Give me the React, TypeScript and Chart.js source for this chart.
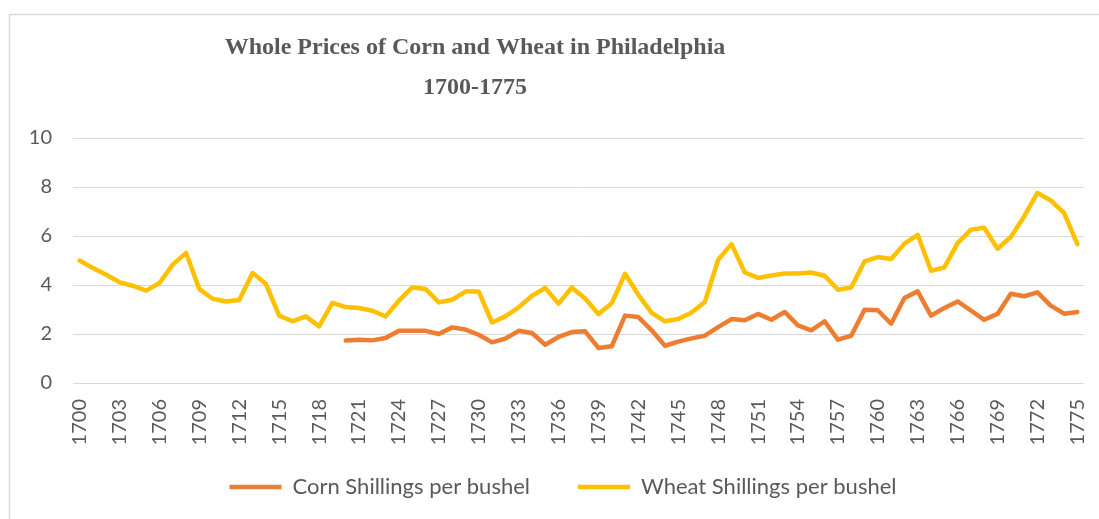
import React, { useEffect, useRef } from 'react';
import { Chart, registerables } from 'chart.js';

Chart.register(...registerables);

const years = [
  '1700','1701','1702','1703','1704','1705','1706','1707','1708','1709',
  '1710','1711','1712','1713','1714','1715','1716','1717','1718','1719',
  '1720','1721','1722','1723','1724','1725','1726','1727','1728','1729',
  '1730','1731','1732','1733','1734','1735','1736','1737','1738','1739',
  '1740','1741','1742','1743','1744','1745','1746','1747','1748','1749',
  '1750','1751','1752','1753','1754','1755','1756','1757','1758','1759',
  '1760','1761','1762','1763','1764','1765','1766','1767','1768','1769',
  '1770','1771','1772','1773','1774','1775',
];

const cornPrices: (number | null)[] = [
  null, null, null, null, null, null, null, null, null, null,
  null, null, null, null, null, null, null, null, null, null,
  1.73, 1.77, 1.74, 1.84, 2.13, 2.13, 2.13, 2.0, 2.27, 2.18,
  1.97, 1.66, 1.81, 2.13, 2.04, 1.56, 1.88, 2.08, 2.11, 1.43,
  1.5, 2.75, 2.69, 2.15, 1.52, 1.69, 1.82, 1.93, 2.28, 2.61,
  2.56, 2.82, 2.58, 2.9, 2.35, 2.15, 2.52, 1.77, 1.93, 2.99,
  2.97, 2.42, 3.47, 3.74, 2.75, 3.06, 3.33, 2.96, 2.58, 2.82,
  3.64, 3.54, 3.7, 3.16, 2.83, 2.9,
];

const wheatPrices = [
  5.0, 4.69, 4.42, 4.11, 3.97, 3.77, 4.08, 4.83, 5.31, 3.83,
  3.44, 3.33, 3.39, 4.49, 4.05, 2.75, 2.52, 2.72, 2.31, 3.27,
  3.1, 3.06, 2.95, 2.72, 3.36, 3.9, 3.84, 3.29, 3.4, 3.73,
  3.73, 2.47, 2.72, 3.09, 3.56, 3.88, 3.24, 3.9, 3.45, 2.82,
  3.26, 4.46, 3.6, 2.86, 2.52, 2.61, 2.88, 3.31, 5.03, 5.67,
  4.51, 4.29, 4.39, 4.47, 4.47, 4.51, 4.38, 3.81, 3.9, 4.96,
  5.14, 5.06, 5.69, 6.05, 4.58, 4.72, 5.71, 6.26, 6.34, 5.48,
  5.96, 6.8, 7.76, 7.45, 6.94, 5.67,
];

const yTickValues = [0, 2, 4, 6, 8, 10];
const xLabelStep = 3;
const titleLines = ['Whole Prices of Corn and Wheat in Philadelphia', '1700-1775'];
const seriesNames = ['Corn Shillings per bushel', 'Wheat Shillings per bushel'];

const outerBorder = {
  id: 'outerBorder',
  beforeDraw(chart: any) {
    const ctx = chart.ctx;
    ctx.save();
    ctx.fillStyle = '#ffffff';
    ctx.fillRect(0, 0, chart.width, chart.height);
    ctx.strokeStyle = '#d9d9d9';
    ctx.lineWidth = 1.5;
    ctx.strokeRect(9.5, 14.5, 1300, 700);
    ctx.restore();
  },
};

// let the rotated year labels extend below the short x-axis box, and nudge the legend row left
const layoutTweaks = {
  id: 'layoutTweaks',
  afterLayout(chart: any) {
    const x = chart.scales.x;
    if (x) x.bottom = chart.height;
    const lg = chart.legend;
    if (lg) {
      lg.left -= 15.5;
      lg.right -= 15.5;
    }
  },
};

export default function App() {
  const ref = useRef<HTMLCanvasElement | null>(null);

  useEffect(() => {
    if (!ref.current) return;
    const chart = new Chart(ref.current, {
      type: 'line',
      data: {
        labels: years,
        datasets: [
          {
            label: seriesNames[0],
            data: cornPrices,
            borderColor: '#ED7D31',
            backgroundColor: '#ED7D31',
            borderWidth: 4.5,
            borderCapStyle: 'round',
            borderJoinStyle: 'round',
            pointRadius: 0,
            tension: 0,
          },
          {
            label: seriesNames[1],
            data: wheatPrices,
            borderColor: '#FFC000',
            backgroundColor: '#FFC000',
            borderWidth: 4.5,
            borderCapStyle: 'round',
            borderJoinStyle: 'round',
            pointRadius: 0,
            tension: 0,
          },
        ],
      },
      options: {
        responsive: false,
        animation: false,
        events: [],
        layout: { padding: { left: -134, right: 15, top: 0, bottom: 11 } },
        scales: {
          x: {
            offset: true,
            grid: { display: false, drawTicks: false },
            border: { display: false },
            ticks: {
              autoSkip: false,
              minRotation: 90,
              maxRotation: 90,
              padding: 16,
              color: '#595959',
              font: { family: 'Lato', size: 20 },
              callback: (_v: any, i: number) => (i % xLabelStep === 0 ? years[i] : ''),
            },
            afterFit: (s: any) => {
              s.height = 45;
              s.paddingLeft = 0;
              s.paddingRight = 0;
            },
          },
          y: {
            min: 0,
            max: 10,
            afterBuildTicks: (s: any) => { s.ticks = yTickValues.map((v) => ({ value: v })); },
            grid: { color: '#d9d9d9', lineWidth: 1, drawTicks: false },
            border: { display: false },
            ticks: {
              padding: 21,
              color: '#595959',
              font: { family: 'Lato', size: 20 },
            },
            afterFit: (s: any) => { s.width = 207; },
          },
        },
        plugins: {
          title: {
            display: true,
            text: titleLines,
            color: '#595959',
            font: { family: 'Liberation Serif', size: 24, weight: 'bold', lineHeight: 1.667 },
            padding: { top: 28, bottom: 30 },
          },
          legend: {
            position: 'bottom',
            fullSize: false,
            labels: {
              usePointStyle: true,
              pointStyle: 'line',
              pointStyleWidth: 52,
              padding: 48,
              color: '#595959',
              font: { family: 'Lato', size: 22 },
            },
          },
          tooltip: { enabled: false },
        },
      },
      plugins: [outerBorder, layoutTweaks],
    } as any);
    return () => chart.destroy();
  }, []);

  return (
    <div style={{ position: 'absolute', left: 0, top: 0, width: 1099, height: 519, overflow: 'hidden' }}>
      <canvas ref={ref} width={1099} height={519} style={{ width: 1099, height: 519, display: 'block' }} />
    </div>
  );
}
